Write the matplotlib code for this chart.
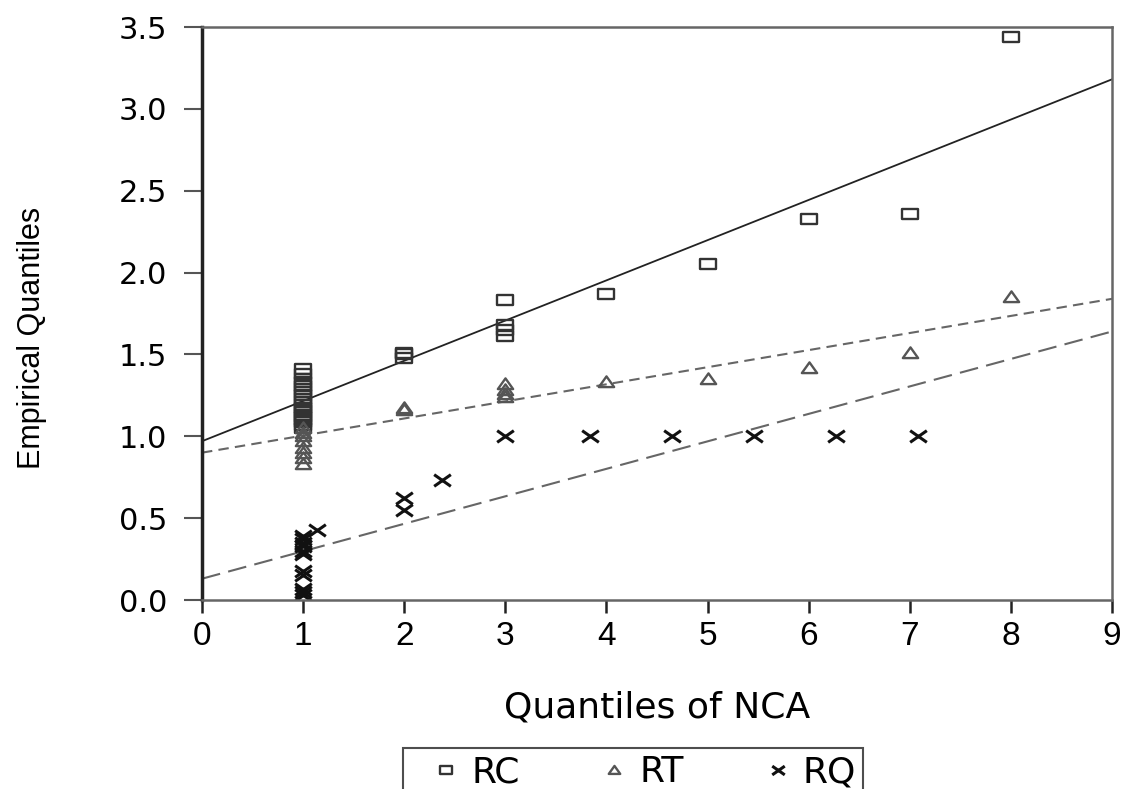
import numpy as np
import matplotlib.pyplot as plt
from matplotlib.path import Path

# Empirical quantiles against NCA quantiles
rc_x = [1] * 20 + [2, 2, 2, 3, 3, 3, 3, 4, 5, 6, 7, 8]
rc_y = [1.05, 1.07, 1.09, 1.10, 1.12, 1.13, 1.15, 1.16, 1.17, 1.19,
        1.21, 1.23, 1.25, 1.27, 1.29, 1.31, 1.33, 1.35, 1.38, 1.41,
        1.48, 1.50, 1.51, 1.61, 1.65, 1.68, 1.83, 1.87, 2.05, 2.33, 2.36, 3.44]

rt_x = [1] * 8 + [2, 2, 3, 3, 3, 3, 4, 5, 6, 7, 8]
rt_y = [1.05, 1.02, 1.00, 0.97, 0.93, 0.90, 0.87, 0.83,
        1.16, 1.17, 1.24, 1.26, 1.28, 1.32, 1.33, 1.35, 1.42, 1.51, 1.85]

rq_x = [1] * 11 + [1.14, 2, 2, 2.37, 3.0, 3.84, 4.65, 5.46, 6.27, 7.08]
rq_y = [0.39, 0.37, 0.35, 0.33, 0.30, 0.28, 0.18, 0.15, 0.07, 0.05, 0.03,
        0.43, 0.55, 0.62, 0.73, 1.0, 1.0, 1.0, 1.0, 1.0, 1.0]

# reference lines: intercept, slope
line_a = [0.97, 0.2456]
line_b = [0.90, 0.1044]
line_c = [0.13, 0.1678]

x_ticks = list(range(10))
y_ticks = [0.0, 0.5, 1.0, 1.5, 2.0, 2.5, 3.0, 3.5]

# stretched marker shapes
rect = Path([(-1, -0.65), (1, -0.65), (1, 0.65), (-1, 0.65), (-1, -0.65)],
            [Path.MOVETO, Path.LINETO, Path.LINETO, Path.LINETO, Path.CLOSEPOLY])
tri = Path([(-1, -0.6), (1, -0.6), (0, 0.8), (-1, -0.6)],
           [Path.MOVETO, Path.LINETO, Path.LINETO, Path.CLOSEPOLY])
cross = Path([(-1, -0.7), (1, 0.7), (-1, 0.7), (1, -0.7)],
             [Path.MOVETO, Path.LINETO, Path.MOVETO, Path.LINETO])

fig = plt.figure(figsize=(11.3, 7.89), dpi=100)
ax = fig.add_axes([202 / 1130, 1 - 600 / 789, 910 / 1130, 573 / 789])

xs = np.array([0, 9])
ax.plot(xs, line_a[0] + line_a[1] * xs, color='#222222', lw=1.3)
ax.plot(xs, line_b[0] + line_b[1] * xs, color='#666666', lw=1.5, dashes=(5, 3))
ax.plot(xs, line_c[0] + line_c[1] * xs, color='#666666', lw=1.5, dashes=(9, 4))

h1, = ax.plot(rc_x, rc_y, ls='none', marker=rect, ms=11, mfc='none',
              mec='#333333', mew=1.7, label='RC')
h2, = ax.plot(rt_x, rt_y, ls='none', marker=tri, ms=11, mfc='none',
              mec='#555555', mew=1.7, label='RT')
h3, = ax.plot(rq_x, rq_y, ls='none', marker=cross, ms=12, mfc='none',
              mec='#111111', mew=2.2, label='RQ')

ax.set_xlim(0, 9)
ax.set_ylim(0, 3.5)
ax.set_xticks(x_ticks)
ax.set_yticks(y_ticks)
ax.set_yticklabels([f'{v:.1f}' for v in y_ticks], family='DejaVu Sans', fontsize=22)
ax.set_xticklabels([str(v) for v in x_ticks], family='Liberation Sans', fontsize=24)
ax.tick_params(axis='y', direction='out', length=13, width=1.5, color='#555555', pad=12)
ax.tick_params(axis='x', direction='out', length=9, width=1.8, color='#222222', pad=6)

ax.spines['left'].set_linewidth(2.5)
ax.spines['left'].set_color('#222222')
for s in ['bottom', 'top', 'right']:
    ax.spines[s].set_linewidth(1.8)
    ax.spines[s].set_color('#666666')

ax.set_xlabel('Quantiles of NCA', family='DejaVu Sans', fontsize=26, labelpad=28)
fig.text(32 / 1130, 1 - 338 / 789, 'Empirical Quantiles', rotation=90,
         family='Liberation Sans', fontsize=22, ha='center', va='center')

leg = fig.legend(handles=[h1, h2, h3], loc='upper left',
                 bbox_to_anchor=(403 / 1130, 1 - 748 / 789), ncol=3,
                 frameon=True, fancybox=False, borderaxespad=0,
                 prop={'family': 'DejaVu Sans', 'size': 26},
                 markerscale=0.75, handlelength=2.0, handletextpad=-0.3,
                 columnspacing=1.6, borderpad=0.2)
leg.get_frame().set_edgecolor('#222222')
leg.get_frame().set_linewidth(1.5)

plt.savefig('out.png', dpi=100)
